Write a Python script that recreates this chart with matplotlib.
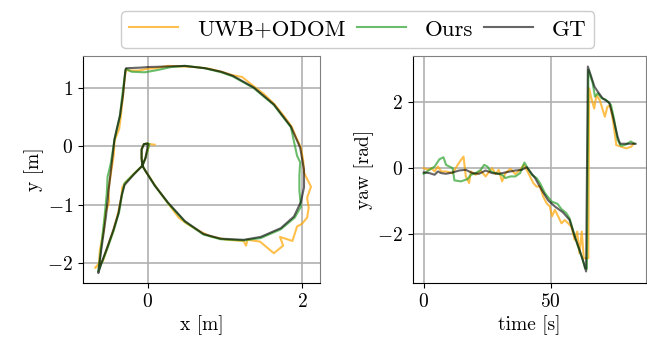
import matplotlib
matplotlib.use("Agg")
import matplotlib.pyplot as plt

plt.rcParams['font.family'] = 'serif'
plt.rcParams['font.serif'] = ['cmr10']
plt.rcParams['mathtext.fontset'] = 'cm'
plt.rcParams['axes.formatter.use_mathtext'] = True
plt.rcParams['font.size'] = 14

# ---- trajectory data (x, y in m) ----
gt_x = [0.00, -0.01, -0.03, -0.07, -0.18, -0.30, -0.34, -0.38, -0.45, -0.53, -0.60, -0.64,
        -0.60, -0.54, -0.51, -0.47, -0.43, -0.36, -0.32, -0.29, -0.28,
        -0.10, 0.00, 0.26, 0.48, 0.74, 0.95, 1.10, 1.37, 1.63, 1.85, 1.97, 2.02, 2.02, 1.98,
        1.89, 1.72, 1.46, 1.24, 0.94, 0.72, 0.48, 0.26, 0.09, -0.03, -0.07, -0.08, -0.08,
        -0.05, -0.01]
gt_y = [0.04, -0.06, -0.20, -0.33, -0.48, -0.66, -0.85, -1.15, -1.45, -1.75, -2.00, -2.17,
        -1.76, -1.19, -0.79, -0.33, 0.13, 0.53, 0.88, 1.31, 1.34,
        1.35, 1.36, 1.37, 1.38, 1.34, 1.28, 1.21, 1.01, 0.72, 0.34, -0.02, -0.40, -0.70, -0.95,
        -1.20, -1.40, -1.55, -1.60, -1.58, -1.50, -1.28, -0.96, -0.67, -0.42, -0.33, -0.20, -0.05,
        0.04, 0.05]

ours_x = [0.02, 0.00, -0.03, -0.07, -0.18, -0.30, -0.33, -0.37, -0.44, -0.52, -0.59, -0.64,
          -0.61, -0.56, -0.53, -0.52, -0.48, -0.43, -0.36, -0.33, -0.29, -0.28,
          -0.21, -0.04, 0.13, 0.30, 0.48, 0.74, 0.95, 1.10, 1.37, 1.63, 1.85, 1.93, 1.97, 1.96,
          1.96, 1.98, 1.90, 1.72, 1.46, 1.24, 0.94, 0.72, 0.48, 0.26, 0.09, -0.03, -0.07, -0.08,
          -0.08, -0.05, 0.00]
ours_y = [0.04, -0.06, -0.20, -0.33, -0.47, -0.63, -0.80, -1.12, -1.44, -1.74, -1.98, -2.14,
          -1.80, -1.22, -0.80, -0.52, -0.30, 0.12, 0.52, 0.88, 1.28, 1.33,
          1.28, 1.27, 1.31, 1.36, 1.38, 1.34, 1.27, 1.20, 1.00, 0.71, 0.33, -0.16, -0.27, -0.50,
          -0.75, -1.03, -1.22, -1.42, -1.57, -1.61, -1.59, -1.51, -1.29, -0.97, -0.67, -0.42, -0.33,
          -0.20, -0.05, 0.04, 0.05]

uwb_x = [0.09, 0.02, 0.00, -0.03, -0.07, -0.18, -0.29, -0.33, -0.34, -0.38, -0.44, -0.52,
         -0.58, -0.68, -0.63, -0.62, -0.57, -0.55, -0.50, -0.51, -0.47, -0.44, -0.43, -0.37,
         -0.35, -0.32, -0.30, -0.28, -0.25, -0.12, 0.00, 0.10, 0.26, 0.45, 0.62, 0.80, 0.95,
         1.10, 1.22, 1.38, 1.50, 1.64, 1.76, 1.86, 1.92, 1.98, 2.01, 2.02, 2.11, 2.06, 2.08,
         2.06, 1.99, 1.93, 1.87, 1.71, 1.75, 1.63, 1.45, 1.29, 1.27, 1.24, 1.02, 0.81, 0.68,
         0.50, 0.40, 0.26, 0.12, -0.03, -0.07, -0.08, -0.08, -0.05, 0.00]
uwb_y = [0.03, 0.04, -0.05, -0.20, -0.33, -0.47, -0.62, -0.70, -0.86, -1.12, -1.42, -1.72,
         -1.96, -2.08, -2.00, -1.78, -1.45, -1.15, -0.95, -0.75, -0.40, -0.15, 0.10, 0.30,
         0.50, 0.88, 1.15, 1.32, 1.30, 1.30, 1.33, 1.34, 1.38, 1.37, 1.36, 1.33, 1.28,
         1.22, 1.19, 1.02, 0.90, 0.72, 0.52, 0.34, 0.15, -0.02, -0.25, -0.45, -0.69, -0.88, -1.05,
         -1.22, -1.33, -1.37, -1.62, -1.55, -1.70, -1.83, -1.63, -1.60, -1.70, -1.62, -1.60, -1.54, -1.46,
         -1.32, -1.22, -0.97, -0.72, -0.42, -0.33, -0.20, -0.05, 0.04, 0.05]

# ---- yaw data (time in s, yaw in rad) ----
gt_t = [0, 2.3, 4.3, 5.6, 6.9, 8.8, 11.4, 14.0, 16.6, 19.2, 21.8, 24.4, 27.0, 29.6, 32.2, 36.1,
        38.7, 40.6, 41.9, 43.9, 46.5, 49.1, 51.7, 54.9, 57.5, 59.5, 61.4, 63.1, 64.0, 64.7, 66.0,
        67.3, 68.6, 70.5, 73.1, 74.4, 76.4, 77.4, 80.3, 83.5]
gt_yaw = [-0.13, -0.15, -0.20, -0.10, -0.15, -0.17, -0.13, -0.07, -0.05, -0.15, -0.17, -0.07,
          -0.15, -0.17, -0.13, -0.07, -0.05, 0.03, -0.10, -0.30, -0.66, -0.98, -1.16, -1.34,
          -1.57, -2.07, -2.47, -2.88, -3.13, 3.08, 2.78, 2.47, 2.32, 2.12, 1.99, 1.62, 0.96,
          0.74, 0.74, 0.74]

ours_t = [0, 2.3, 4.3, 6.2, 7.8, 8.8, 10.1, 11.4, 12.1, 14.7, 17.3, 18.6, 20.5, 22.5, 23.8,
          25.1, 26.4, 28.3, 30.9, 32.2, 34.2, 36.1, 38.0, 39.7, 41.0, 42.6, 44.5, 45.8, 47.8,
          50.4, 52.7, 54.3, 56.2, 57.5, 59.2, 60.8, 62.7, 63.6, 64.3, 64.9, 66.6, 67.5, 68.6,
          70.1, 71.8, 73.8, 75.1, 76.4, 77.7, 79.6, 81.6, 83.1]
ours_yaw = [-0.17, -0.05, 0.05, 0.27, 0.33, 0.10, 0.05, 0.00, -0.37, -0.40, -0.33, -0.20,
            -0.15, -0.05, 0.10, 0.05, -0.10, -0.15, -0.20, -0.30, -0.25, -0.25, -0.15, 0.17,
            0.00, -0.20, -0.30, -0.45, -0.76, -1.01, -1.08, -1.24, -1.36, -1.52, -1.97, -2.37,
            -2.78, -3.03, -3.05, 2.98, 2.58, 2.17, 2.27, 2.12, 2.07, 1.92, 1.46, 0.86, 0.68,
            0.71, 0.81, 0.74]

uwb_t = [0, 1.7, 3.0, 4.3, 5.6, 6.9, 8.8, 11.4, 13.4, 14.7, 15.7, 16.6, 17.9, 18.6, 20.5,
         22.5, 24.4, 25.7, 27.0, 28.3, 29.6, 30.9, 32.2, 34.2, 36.1, 38.0, 39.4, 40.6, 41.9,
         43.2, 44.5, 45.8, 47.1, 48.4, 49.7, 50.6, 51.7, 53.0, 54.3, 55.6, 56.9, 58.2, 59.5,
         60.5, 61.4, 62.3, 63.1, 64.0, 64.9, 65.2, 66.1, 67.2, 68.1, 69.4, 70.0, 71.4, 72.4,
         73.5, 74.6, 75.9, 77.9, 79.8, 81.8, 82.8]
uwb_yaw = [0.00, -0.05, 0.00, -0.10, 0.05, -0.10, -0.10, -0.15, 0.10, 0.25, 0.35, -0.25,
           -0.45, -0.10, -0.20, -0.08, -0.25, -0.12, 0.00, -0.18, -0.05, -0.40, -0.15, -0.02,
           -0.18, -0.05, 0.10, -0.05, -0.25, -0.45, -0.56, -0.55, -0.86, -1.06, -1.16, -1.46,
           -1.26, -1.46, -1.67, -1.57, -1.67, -1.77, -2.17, -1.92, -2.58, -1.92, -2.73, -2.73,
           -2.73, 2.42, 2.11, 1.81, 2.21, 2.06, 1.91, 1.56, 1.86, 1.90, 1.45, 0.70, 0.65, 0.60,
           0.65, 0.75]

labels = ['UWB+ODOM', 'Ours', 'GT']
colors = ['orange', 'tab:green', 'black']
alphas = [0.7, 0.7, 0.6]

fig = plt.figure(figsize=(6.47, 3.52), dpi=100)
ax1 = fig.add_axes([0.128, 0.196, 0.367, 0.645])
ax2 = fig.add_axes([0.638, 0.196, 0.360, 0.645])

lw = 1.5
handles = []
for (x, y), lab, c, a in zip([(uwb_x, uwb_y), (ours_x, ours_y), (gt_x, gt_y)], labels, colors, alphas):
    h, = ax1.plot(x, y, color=c, alpha=a, lw=lw, label=lab)
    handles.append(h)
for (t, yw), c, a in zip([(uwb_t, uwb_yaw), (ours_t, ours_yaw), (gt_t, gt_yaw)], colors, alphas):
    ax2.plot(t, yw, color=c, alpha=a, lw=lw)

ax1.set_xlim(-0.84, 2.23)
ax1.set_ylim(-2.34, 1.55)
ax1.set_xticks([0, 2])
ax1.set_yticks([-2, -1, 0, 1])
ax1.set_xlabel('x [m]', labelpad=3)
ax1.set_ylabel('y [m]', labelpad=2)

ax2.set_xlim(-4.3, 87.5)
ax2.set_ylim(-3.48, 3.4)
ax2.set_xticks([0, 50])
ax2.set_yticks([-2, 0, 2])
ax2.set_xlabel('time [s]', labelpad=3)
ax2.set_ylabel('yaw [rad]', labelpad=2)

for ax in (ax1, ax2):
    ax.grid(True, color='#b0b0b0', lw=1.2)
    ax.set_axisbelow(True)
    ax.spines['top'].set_color('#808080')
    ax.spines['right'].set_color('#808080')
    ax.tick_params(labelsize=14)

fig.legend(handles=handles, loc='upper center', bbox_to_anchor=(0.553, 1.0), ncol=3,
           fontsize=16.5, handlelength=2.15, handletextpad=0.8, columnspacing=0.5,
           fancybox=True, edgecolor='#cccccc', framealpha=1.0, borderpad=0.35)

fig.savefig('out.png', dpi=100)
